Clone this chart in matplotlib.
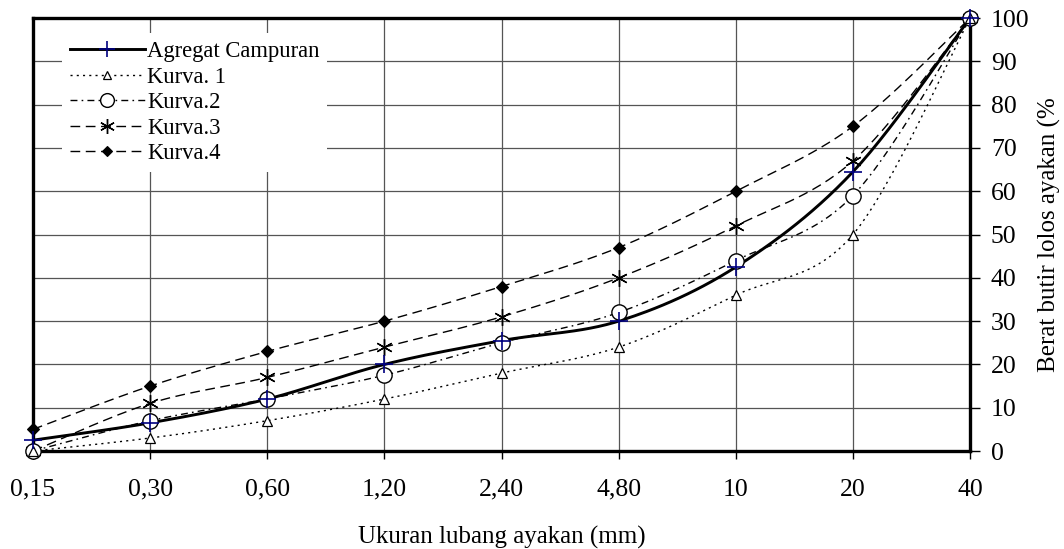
import numpy as np
import matplotlib
matplotlib.use("Agg")
import matplotlib.pyplot as plt
from matplotlib.lines import Line2D

plt.rcParams['font.family'] = ['Liberation Serif', 'DejaVu Serif']

categories = ["0,15", "0,30", "0,60", "1,20", "2,40", "4,80", "10", "20", "40"]
agregat = [2.5, 6.5, 12, 20, 25.5, 30, 42.5, 64.5, 100]
kurva1 = [0, 3, 7, 12, 18, 24, 36, 50, 100]
kurva2 = [0, 7, 12, 17.5, 25, 32, 44, 59, 100]
kurva3 = [0, 11, 17, 24, 31, 40, 52, 67, 100]
kurva4 = [5, 15, 23, 30, 38, 47, 60, 75, 100]
y_ticks = [0, 10, 20, 30, 40, 50, 60, 70, 80, 90, 100]


def smooth(xs, ys, n=30):
    xs = np.asarray(xs, float); ys = np.asarray(ys, float)
    px = np.concatenate([[xs[0]], xs, [xs[-1]]])
    py = np.concatenate([[ys[0]], ys, [ys[-1]]])
    ox, oy = [], []
    t = np.linspace(0, 1, n)
    for i in range(1, len(px) - 2):
        p0 = np.array([px[i], py[i]]); p3 = np.array([px[i+1], py[i+1]])
        p1 = p0 + (np.array([px[i+1], py[i+1]]) - np.array([px[i-1], py[i-1]])) / 6
        p2 = p3 - (np.array([px[i+2], py[i+2]]) - np.array([px[i], py[i]])) / 6
        b = ((1-t)**3)[:, None]*p0 + (3*(1-t)**2*t)[:, None]*p1 + (3*(1-t)*t**2)[:, None]*p2 + (t**3)[:, None]*p3
        ox.extend(b[:, 0]); oy.extend(b[:, 1])
    return np.array(ox), np.array(oy)


fig = plt.figure(figsize=(10.64, 5.49), dpi=100)
ax = fig.add_axes([0.031, 0.1785, 0.8807, 0.7885])
x = np.arange(len(categories))

series = [
    ("Agregat Campuran", agregat, dict(color='black', lw=2.1, ls='-'),
     dict(marker='+', ms=13, mec='#000080', mfc='none', mew=1.2)),
    ("Kurva. 1", kurva1, dict(color='black', lw=1.0, ls=(0, (1.5, 3))),
     dict(marker='^', ms=7, mec='black', mfc='white', mew=0.9)),
    ("Kurva.2", kurva2, dict(color='black', lw=1.0, ls=(0, (5, 3, 1.2, 3))),
     dict(marker='o', ms=11, mec='black', mfc='white', mew=1.0)),
    ("Kurva.3", kurva3, dict(color='black', lw=1.0, ls=(0, (7, 4))),
     dict(marker=(6, 2, 0), ms=12, mec='black', mfc='none', mew=1.0)),
    ("Kurva.4", kurva4, dict(color='black', lw=1.0, ls=(0, (7, 4))),
     dict(marker='D', ms=6, mec='black', mfc='black', mew=0.8)),
]

for name, ys, lstyle, mstyle in series:
    sx, sy = smooth(x, ys)
    ax.plot(sx, sy, zorder=3, **lstyle)
for name, ys, lstyle, mstyle in reversed(series):
    ax.plot(x, ys, ls='none', zorder=4, clip_on=False, **mstyle)

leg_handles = []
for name, ys, lstyle, mstyle in series:
    ms = dict(mstyle)
    ms['ms'] = mstyle['ms'] * 0.9
    leg_handles.append(Line2D([0, 0.5, 1], [0, 0, 0], markevery=[1], label=name,
                              **lstyle, **ms))

ax.set_xlim(0, 8)
ax.set_ylim(0, 100)
ax.set_xticks(x)
ax.set_xticklabels(categories, fontsize=18.5)
ax.set_yticks(y_ticks)
ax.yaxis.tick_right()
ax.yaxis.set_label_position('right')
ax.tick_params(axis='y', labelsize=18.5, length=7, width=1, direction='out', pad=8)
ax.tick_params(axis='x', length=6, width=1, direction='out', pad=14)
ax.grid(True, color='#555555', lw=0.9)
ax.set_axisbelow(True)
for s in ax.spines.values():
    s.set_linewidth(2.4)
    s.set_color('black')

ax.set_xlabel("Ukuran lubang ayakan (mm)", fontsize=18, labelpad=18)
ax.set_ylabel("Berat butir lolos ayakan (%", fontsize=18, labelpad=6)

leg = ax.legend(handles=leg_handles, loc='upper left', bbox_to_anchor=(0.031, 0.965),
                frameon=True, fancybox=False, edgecolor='none', facecolor='white',
                framealpha=1, fontsize=16.3, handlelength=3.3, handletextpad=0.1,
                labelspacing=0.2, borderpad=0.35, borderaxespad=0.0)

fig.savefig("out.png", dpi=100)
